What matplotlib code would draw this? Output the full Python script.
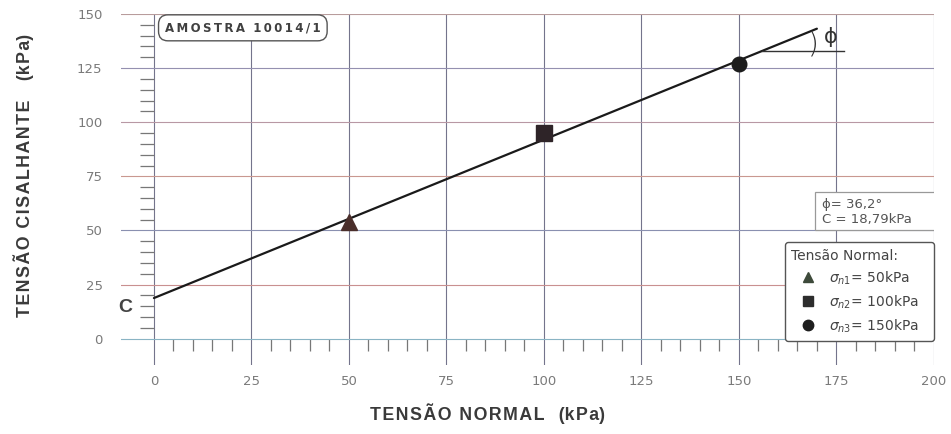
import numpy as np
import matplotlib
matplotlib.use("Agg")
import matplotlib.pyplot as plt
from matplotlib.lines import Line2D
from matplotlib.patches import Rectangle

plt.rcParams['font.family'] = ['Liberation Sans', 'DejaVu Sans']
plt.rcParams['mathtext.fontset'] = 'dejavusans'

# --- данные с картинки ---
sigma_n = [50, 100, 150]              # kPa
tau = [54, 95, 127]                   # kPa
markers = ['^', 's', 'o']
marker_sizes = [12, 11, 10.5]
point_colors = ['#4a2e2a', '#2e2428', '#1c1c1c']
legend_colors = ['#3d4a3a', '#2d2d2d', '#1e1e1e']
legend_labels = [r'$\sigma_{n1}$= 50kPa', r'$\sigma_{n2}$= 100kPa', r'$\sigma_{n3}$= 150kPa']
env_x = [0, 170]                      # огибающая Мора-Кулона
env_y = [18.79, 143.2]
phi_deg = 36.2
coh = 18.79
x_ticks = np.arange(0, 201, 25)
y_ticks = np.arange(0, 151, 25)

GRAY = '#7a7a7a'
TXT = '#3a3a3a'


def spaced(s, sep='\u200a'):
    return sep.join(s)


fig = plt.figure(figsize=(9.51, 4.34), dpi=100)
ax = fig.add_axes([0.127, 0.1597, 0.855, 0.8081])
ax.set_xlim(-8.5, 200)
ax.set_ylim(-12, 150)

for s in ['top', 'right']:
    ax.spines[s].set_visible(False)
ax.spines['left'].set_position(('data', 0))
ax.spines['bottom'].set_position(('data', 0))
ax.spines['left'].set_visible(False)
ax.spines['bottom'].set_visible(False)

ax.set_xticks(x_ticks)
ax.set_yticks(y_ticks)
ax.set_xticks(np.arange(0, 201, 5), minor=True)
ax.set_yticks(np.arange(0, 151, 5), minor=True)
ax.tick_params(axis='x', which='major', length=0, pad=26, labelsize=9.5, labelcolor=GRAY)
ax.tick_params(axis='y', which='major', length=0, pad=37, labelsize=9.5, labelcolor=GRAY)
ax.tick_params(axis='x', which='minor', length=8.5, width=0.9, color='#777777', direction='out')
ax.tick_params(axis='y', which='minor', length=10, width=0.9, color='#777777', direction='out')
for lab in ax.get_xticklabels() + ax.get_yticklabels():
    lab.set_fontfamily(['DejaVu Sans'])

ax.grid(True, which='major', lw=0.8)
hcols = ['#8ab4c4', '#c99090', '#8a90b0', '#c99890', '#b898a4', '#9490b0', '#b89c9c']
for gl, c in zip(ax.yaxis.get_gridlines(), hcols):
    gl.set_color(c)
for gl in ax.xaxis.get_gridlines():
    gl.set_color('#74748c')

# огибающая
ax.plot(env_x, env_y, color='#1a1a1a', lw=1.6, zorder=4, solid_capstyle='round')
for x, y, m, ms, c in zip(sigma_n, tau, markers, marker_sizes, point_colors):
    ax.plot(x, y, marker=m, ms=ms, color=c, zorder=5, ls='none')

# угол phi
ax.plot([156, 177], [133, 133], color='#333333', lw=1.0, zorder=4)
ax.text(169.2, 135.8, ')', fontsize=20, color='#333333', ha='center', va='center',
        family=['DejaVu Sans'], fontweight='light', zorder=5)
ax.text(173.5, 139.5, '\u03d5', fontsize=15, color='#333333', ha='center', va='center',
        family=['DejaVu Sans'], zorder=5)

# C
ax.text(-7.3, 14.5, 'C', fontsize=14, fontweight='bold', color='#444444', ha='center', va='center')

# AMOSTRA
ax.text(22.8, 143.6, spaced('AMOSTRA', '\u2009') + '  ' + spaced('10014/1', '\u2009'),
        fontsize=8.5, fontweight='bold', color='#404040', ha='center', va='center',
        family=['DejaVu Sans'], zorder=6,
        bbox=dict(boxstyle='round,pad=0.55,rounding_size=0.8', fc='white', ec='#555555', lw=1))

# блок параметров
ax.add_patch(Rectangle((169.5, 50.2), 30.7, 17.5, fc='white', ec='#999999', lw=0.9, zorder=6))
ax.text(171.3, 62.2, '\u03d5= %s\u00b0' % str(phi_deg).replace('.', ','), fontsize=9.5, color='#555555',
        va='center', ha='left', zorder=7, family=['DejaVu Sans'])
ax.text(171.3, 55.2, 'C = %skPa' % str(coh).replace('.', ','), fontsize=9.5, color='#555555',
        va='center', ha='left', zorder=7, family=['DejaVu Sans'])

# легенда
handles = [Line2D([], [], marker=m, ms=7.5, color=c, ls='none') for m, c in zip(markers, legend_colors)]
leg = ax.legend(handles, legend_labels, title='Tensão Normal:', loc='upper left',
                bbox_to_anchor=(0.817, 0.079, 0.183, 0.27), mode='expand',
                prop={'family': ['DejaVu Sans'], 'size': 10}, title_fontproperties={'family': ['DejaVu Sans'], 'size': 10},
                frameon=True, fancybox=True, edgecolor='#555555', framealpha=1,
                handletextpad=0.3, borderpad=0.45, labelspacing=0.48, handlelength=2.4,
                borderaxespad=0, alignment='left')
leg.get_frame().set_linewidth(1.0)
leg.set_zorder(8)
for t in leg.get_texts():
    t.set_color('#444444')
leg.get_title().set_color('#444444')

# подписи осей
fig.text(488 / 951, 1 - 414 / 434, spaced('TENSÃO NORMAL') + '   (' + spaced('kPa') + ')',
         fontsize=12.8, fontweight='bold', color=TXT, ha='center', va='center')
fig.text(24 / 951, 1 - 175 / 434, spaced('TENSÃO CISALHANTE') + '    (' + spaced('kPa') + ')',
         fontsize=12.8, fontweight='bold', color=TXT, ha='center', va='center', rotation=90)

fig.savefig('out.png', dpi=100, facecolor='white')
